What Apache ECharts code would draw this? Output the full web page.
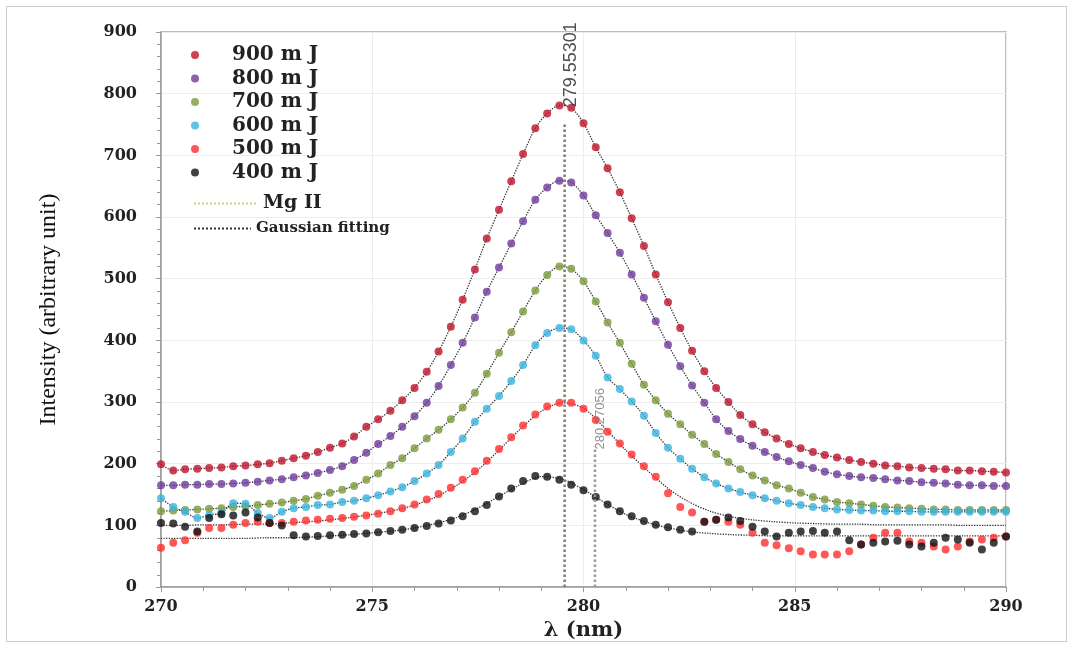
<!DOCTYPE html>
<html>
<head>
<meta charset="utf-8">
<title>Mg II line</title>
<script src="https://cdn.jsdelivr.net/npm/echarts@6/dist/echarts.min.js"></script>
<style>
  html, body { margin: 0; padding: 0; background: #fff; }
  #wrap { position: relative; width: 1072px; height: 646px; }
  #chart { width: 1072px; height: 646px; }
  #frame { position: absolute; left: 6px; top: 6px; width: 1059px; height: 634px;
           border: 1px solid #cfcfcf; pointer-events: none; }
</style>
</head>
<body>
<div id="wrap">
  <div id="chart"></div>
  <div id="frame"></div>
</div>
<script>
// wavelength of the measured points (nm)
var wl = [
  270.00,270.29,270.57,270.86,271.14,271.43,271.71,
  272.00,272.29,272.57,272.86,273.14,273.43,273.71,
  274.00,274.29,274.57,274.86,275.14,275.43,275.71,
  276.00,276.29,276.57,276.86,277.14,277.43,277.71,
  278.00,278.29,278.57,278.86,279.14,279.43,279.71,
  280.00,280.29,280.57,280.86,281.14,281.43,281.71,
  282.00,282.29,282.57,282.86,283.14,283.43,283.71,
  284.00,284.29,284.57,284.86,285.14,285.43,285.71,
  286.00,286.29,286.57,286.86,287.14,287.43,287.71,
  288.00,288.29,288.57,288.86,289.14,289.43,289.71,
  290.00];

var e900 = [
  199,189,191,192,193,194,196,
  197,199,201,205,209,213,219,
  226,233,244,260,272,286,303,
  323,349,382,422,466,515,565,
  612,658,702,744,768,781,777,
  752,713,679,640,598,553,507,
  462,420,383,350,323,300,279,
  264,251,241,232,225,219,214,
  210,206,203,200,197,196,194,
  193,192,191,189,189,188,187,
  186];
var e800 = [
  165,165,166,166,167,167,168,
  169,171,173,175,178,181,185,
  190,196,206,218,232,245,260,
  277,299,326,360,396,437,479,
  518,557,593,628,648,659,656,
  635,603,574,542,507,469,431,
  393,358,327,299,272,253,240,
  229,219,211,204,198,193,187,
  183,180,178,177,175,173,172,
  170,169,168,166,165,165,164,
  164];
var e700 = [
  123,124,125,126,127,128,130,
  131,133,135,137,140,143,148,
  153,158,164,174,184,198,209,
  225,241,255,272,291,315,346,
  380,413,447,481,506,520,516,
  496,463,429,396,362,328,303,
  281,264,247,232,216,203,191,
  181,173,165,160,153,146,142,
  138,136,134,132,130,129,128,
  127,126,126,125,125,125,125,
  125];
var e600 = [
  144,130,122,112,117,120,136,
  135,120,112,122,128,130,133,
  134,138,140,144,149,155,162,
  172,184,198,219,241,268,289,
  310,334,360,392,412,420,418,
  400,375,340,321,301,278,250,
  226,208,192,178,168,160,154,
  149,144,140,136,133,130,128,
  126,125,124,124,123,123,123,
  122,122,122,122,122,122,122,
  122];
var e500 = [
  64,72,76,88,96,96,101,
  104,106,104,104,106,108,109,
  111,112,114,116,119,123,128,
  134,142,151,161,174,188,205,
  224,243,262,280,293,299,299,
  289,271,252,233,215,196,179,
  152,130,121,106,109,106,101,
  88,72,68,63,58,53,53,
  53,58,69,80,88,88,74,
  72,66,61,66,74,77,80,
  82];
var e400 = [
  104,103,98,90,112,118,116,
  121,113,104,100,84,82,83,
  84,85,86,87,89,91,93,
  96,99,103,108,115,123,133,
  147,160,172,180,179,174,166,
  157,146,134,123,115,107,101,
  97,93,90,106,109,113,107,
  98,90,82,88,90,91,88,
  90,76,69,72,74,75,69,
  66,72,80,77,72,61,72,
  82];

// gaussian fits of the two weakest spectra (0.5 nm steps)
var fitWl = [
  270,270.5,271,271.5,272,272.5,273,273.5,274,274.5,
  275,275.5,276,276.5,277,277.5,278,278.5,279,279.5,
  280,280.5,281,281.5,282,282.5,283,283.5,284,284.5,
  285,285.5,286,286.5,287,287.5,288,288.5,289,289.5,
  290];
var fit500 = [
  100,100,101,101,102,102,104,106,109,113,
  118,124,133,146,165,190,222,256,285,299,
  290,258,222,190,160,138,123,114,109,106,
  104,103,102,102,101,101,101,101,100,100,
  100];
var fit400 = [
  79,79,79,79,79,80,80,81,83,85,
  88,91,96,103,113,128,147,166,179,175,
  158,137,118,105,96,90,87,85,84,83,
  83,83,83,83,83,83,83,83,83,83,
  83];

var energies = ['900 m J','800 m J','700 m J','600 m J','500 m J','400 m J'];
var colors = ['#c0122a','#6e3a9c','#7a9a3a','#38b4e0','#ff2d2d','#111111'];
var spectra = [e900, e800, e700, e600, e500, e400];

var mgWl = [279.55301, 280.27056];
var mgTop = [750, 228];
var mgText = ['279.55301', '280.27056'];

function pairs(xs, ys) {
  return xs.map(function (x, i) { return [x, ys[i]]; });
}

var serifBold = { fontFamily: 'DejaVu Serif', fontWeight: 'bold', color: '#222' };
var noSymbol = { color: 'rgba(0,0,0,0)', borderColor: 'rgba(0,0,0,0)', borderWidth: 0 };

var fitCurves = [pairs(wl, e900), pairs(wl, e800), pairs(wl, e700), pairs(wl, e600),
                 pairs(fitWl, fit500), pairs(fitWl, fit400)];

var series = [];
fitCurves.forEach(function (d) {
  series.push({
    name: 'Gaussian fitting', type: 'line', data: d, smooth: 0.3,
    symbol: 'none', silent: true, z: 2, color: '#333',
    lineStyle: { color: '#333', width: 1.3, type: 'dotted' }
  });
});
spectra.forEach(function (ys, i) {
  series.push({
    name: energies[i], type: 'scatter', data: pairs(wl, ys),
    symbol: 'circle', symbolSize: 8, silent: true, z: 3,
    itemStyle: { color: colors[i] }
  });
});
series.push({
  name: 'Mg II', type: 'line', symbol: 'none', silent: true, z: 4, color: '#8a8a70',
  data: [[mgWl[0], 0], [mgWl[0], mgTop[0]]],
  lineStyle: { color: '#7e7e66', width: 2.5, type: 'dotted' }
});
series.push({
  name: 'Mg II b', type: 'line', symbol: 'none', silent: true, z: 4,
  data: [[mgWl[1], 0], [mgWl[1], mgTop[1]]],
  lineStyle: { color: '#9a9a9a', width: 2.5, type: 'dotted' }
});
series.push({
  name: 'line labels', type: 'scatter', symbolSize: 1, silent: true, z: 5,
  itemStyle: noSymbol,
  data: [
    { value: [279.70, 847], name: mgText[0],
      label: { fontSize: 18, color: '#222' } },
    { value: [280.40, 273], name: mgText[1],
      label: { fontSize: 13, color: '#777' } }
  ],
  label: {
    show: true, position: 'inside', rotate: 90,
    fontFamily: 'Liberation Sans', formatter: '{b}'
  }
});

var chart = echarts.init(document.getElementById('chart'));
chart.setOption({
  backgroundColor: '#fff',
  animation: false,
  grid: { left: 161, right: 66, top: 32, bottom: 53, show: true,
          borderColor: '#a8a8a8', borderWidth: 1.5 },
  legend: [{
    data: energies, orient: 'vertical', left: 191, top: 45, padding: 0,
    itemWidth: 64, itemHeight: 8, itemGap: 3.5, selectedMode: false,
    textStyle: Object.assign({ fontSize: 20, lineHeight: 20 }, serifBold)
  }, {
    data: [{ name: 'Mg II', lineStyle: { color: '#c9d27a', width: 2 } }],
    orient: 'vertical', left: 193, top: 194, padding: 0,
    itemWidth: 64, itemHeight: 14, selectedMode: false, itemStyle: noSymbol,
    textStyle: Object.assign({ fontSize: 19 }, serifBold)
  }, {
    data: ['Gaussian fitting'], orient: 'vertical', left: 193, top: 221, padding: 0,
    itemWidth: 57, itemHeight: 14, selectedMode: false, itemStyle: noSymbol,
    textStyle: Object.assign({ fontSize: 15 }, serifBold)
  }],
  xAxis: {
    type: 'value', min: 270, max: 290, interval: 5,
    name: 'λ (nm)', nameLocation: 'middle', nameGap: 24,
    nameTextStyle: Object.assign({ fontSize: 21 }, serifBold),
    axisLine: { lineStyle: { color: '#9a9a9a', width: 1.5 } },
    axisTick: { show: true, length: 5, lineStyle: { color: '#9a9a9a' } },
    minorTick: { show: true, splitNumber: 5, length: 4, lineStyle: { color: '#9a9a9a' } },
    splitLine: { show: true, lineStyle: { color: '#ededed' } },
    axisLabel: Object.assign({ fontSize: 16, margin: 12 }, serifBold)
  },
  yAxis: {
    type: 'value', min: 0, max: 900, interval: 100,
    name: 'Intensity (arbitrary unit)', nameLocation: 'middle', nameGap: 100,
    nameRotate: 90,
    nameTextStyle: { fontFamily: 'Liberation Serif', fontSize: 24, color: '#111' },
    axisLine: { show: true, lineStyle: { color: '#9a9a9a', width: 1.5 } },
    axisTick: { show: true, length: 5, lineStyle: { color: '#9a9a9a' } },
    minorTick: { show: true, splitNumber: 5, length: 4, lineStyle: { color: '#9a9a9a' } },
    splitLine: { show: true, lineStyle: { color: '#ededed' } },
    axisLabel: Object.assign({ fontSize: 16, margin: 24 }, serifBold)
  },
  series: series
});
</script>
</body>
</html>
